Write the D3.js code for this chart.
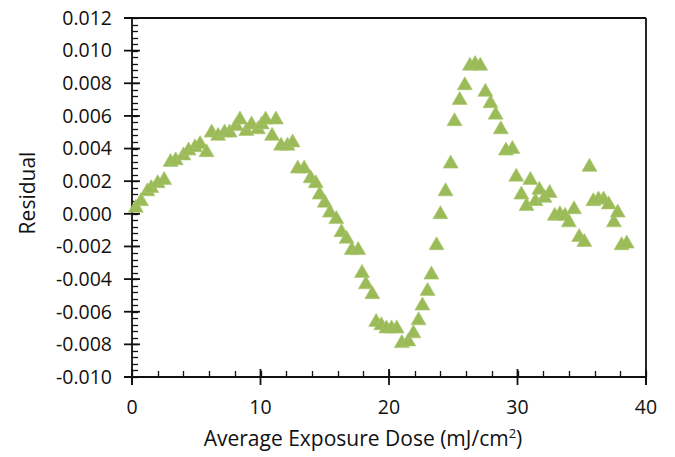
<!DOCTYPE html>
<html>
<head>
<meta charset="utf-8">
<script src="https://cdn.jsdelivr.net/npm/d3@7"></script>
<style>
  html, body { margin: 0; padding: 0; background: #ffffff; }
  svg { display: block; }
  text { font-family: "Open Sans", "Liberation Sans", sans-serif; fill: #111111; }
</style>
</head>
<body>
<svg id="chart" width="675" height="457"></svg>
<script>
// Average exposure dose (mJ/cm²) for each measurement
const dose = [
  0.3, 0.7, 1.2, 1.5, 2.0, 2.5, 3.0, 3.4, 4.0, 4.4,
  4.9, 5.3, 5.8, 6.2, 6.7, 7.2, 7.6, 8.1, 8.4, 8.9,
  9.3, 9.8, 10.1, 10.4, 10.9, 11.2, 11.6, 12.1, 12.5, 12.9,
  13.4, 13.9, 14.3, 14.6, 15.0, 15.4, 15.9, 16.3, 16.7, 17.1,
  17.6, 17.9, 18.2, 18.7, 19.0, 19.4, 19.8, 20.2, 20.6, 21.0,
  21.5, 21.9, 22.3, 22.6, 23.0, 23.3, 23.7, 24.0, 24.4, 24.8,
  25.1, 25.5, 25.9, 26.3, 26.7, 27.1, 27.5, 27.9, 28.3, 28.7,
  29.1, 29.6, 29.9, 30.3, 30.7, 31.0, 31.4, 31.7, 32.1, 32.5,
  32.9, 33.3, 33.7, 34.0, 34.4, 34.8, 35.2, 35.6, 35.9, 36.3,
  36.7, 37.1, 37.5, 37.8, 38.1, 38.5
];

// Fit residual at each dose
const residual = [
  0.0005, 0.0009, 0.0015, 0.0017, 0.0020, 0.0022, 0.0033, 0.0034, 0.0037, 0.0040,
  0.0042, 0.0044, 0.0039, 0.0051, 0.0049, 0.0051, 0.0051, 0.0055, 0.0059, 0.0052,
  0.0056, 0.0053, 0.0056, 0.0059, 0.0049, 0.0059, 0.0043, 0.0043, 0.0045, 0.0029,
  0.0029, 0.0023, 0.0020, 0.0013, 0.0008, 0.0002, -0.0002, -0.0010, -0.0014, -0.0021,
  -0.0021, -0.0035, -0.0042, -0.0048, -0.0065, -0.0067, -0.0069, -0.0069, -0.0069, -0.0078,
  -0.0077, -0.0072, -0.0064, -0.0055, -0.0046, -0.0036, -0.0018, 0.0001, 0.0015, 0.0032,
  0.0058, 0.0071, 0.0080, 0.0092, 0.0093, 0.0092, 0.0076, 0.0069, 0.0062, 0.0053,
  0.0040, 0.0041, 0.0024, 0.0013, 0.0006, 0.0022, 0.0009, 0.0016, 0.0011, 0.0014,
  0.0000, 0.0001, 0.0000, -0.0004, 0.0004, -0.0013, -0.0016, 0.0030, 0.0009, 0.0010,
  0.0010, 0.0007, -0.0004, 0.0002, -0.0018, -0.0017
];

// Axis ticks and their labels
const xTicks = [0, 10, 20, 30, 40];
const xMinorTicks = d3.range(0, 40.001, 2);
const yTicks = [-0.010, -0.008, -0.006, -0.004, -0.002, 0.000, 0.002, 0.004, 0.006, 0.008, 0.010, 0.012];
const yMinorTicks = d3.range(-0.010, 0.01201, 0.0004);
const yTickLabels = ["-0.010", "-0.008", "-0.006", "-0.004", "-0.002", "0.000", "0.002", "0.004", "0.006", "0.008", "0.010", "0.012"];

const svg = d3.select("#chart");
const plot = { left: 132, right: 646, top: 18, bottom: 377 };

const x = d3.scaleLinear().domain([0, 40]).range([plot.left, plot.right]);
const y = d3.scaleLinear().domain([-0.010, 0.012]).range([plot.bottom, plot.top]);

const axisColor = "#111111";
const g = svg.append("g");

// Frame: top and right edges of the plot area
g.append("line")
  .attr("x1", plot.left - 8).attr("x2", plot.right)
  .attr("y1", y(0.012)).attr("y2", y(0.012))
  .attr("stroke", axisColor).attr("stroke-width", 1.8);
g.append("line")
  .attr("x1", x(40)).attr("x2", x(40))
  .attr("y1", plot.top).attr("y2", plot.bottom + 8)
  .attr("stroke", axisColor).attr("stroke-width", 1.8);

// Y axis line, minor (inside) and major (crossing) ticks
g.append("line")
  .attr("x1", x(0)).attr("x2", x(0))
  .attr("y1", plot.top).attr("y2", plot.bottom + 8)
  .attr("stroke", axisColor).attr("stroke-width", 1.8);
g.selectAll(".yminor").data(yMinorTicks).join("line")
  .attr("x1", x(0)).attr("x2", x(0) + 6)
  .attr("y1", d => Math.round(y(d)) + 0.5).attr("y2", d => Math.round(y(d)) + 0.5)
  .attr("stroke", axisColor).attr("stroke-width", 1.3);
g.selectAll(".ymajor").data(yTicks).join("line")
  .attr("x1", x(0) - 8).attr("x2", x(0) + 8)
  .attr("y1", d => y(d)).attr("y2", d => y(d))
  .attr("stroke", axisColor).attr("stroke-width", 1.8);
g.selectAll(".ylabel").data(yTicks).join("text")
  .attr("x", x(0) - 20)
  .attr("y", d => y(d))
  .attr("dy", "0.35em")
  .attr("text-anchor", "end")
  .attr("font-size", 19.5)
  .text((d, i) => yTickLabels[i]);

// X axis line, minor (inside) and major (crossing) ticks
g.append("line")
  .attr("x1", plot.left - 8).attr("x2", plot.right)
  .attr("y1", y(-0.010)).attr("y2", y(-0.010))
  .attr("stroke", axisColor).attr("stroke-width", 1.8);
g.selectAll(".xminor").data(xMinorTicks).join("line")
  .attr("x1", d => Math.round(x(d)) + 0.5).attr("x2", d => Math.round(x(d)) + 0.5)
  .attr("y1", y(-0.010)).attr("y2", y(-0.010) - 6)
  .attr("stroke", axisColor).attr("stroke-width", 1.3);
g.selectAll(".xmajor").data(xTicks).join("line")
  .attr("x1", d => x(d)).attr("x2", d => x(d))
  .attr("y1", y(-0.010) - 8).attr("y2", y(-0.010) + 8)
  .attr("stroke", axisColor).attr("stroke-width", 1.8);
g.selectAll(".xlabel").data(xTicks).join("text")
  .attr("x", d => x(d))
  .attr("y", 414)
  .attr("text-anchor", "middle")
  .attr("font-size", 19.5)
  .text(d => d);

// Axis titles
const xTitle = svg.append("text")
  .attr("x", (plot.left + plot.right) / 2 - 26)
  .attr("y", 446)
  .attr("text-anchor", "middle")
  .attr("font-size", 21);
xTitle.append("tspan").text("Average Exposure Dose (mJ/cm");
xTitle.append("tspan").attr("dy", -8).attr("font-size", 13).text("2");
xTitle.append("tspan").attr("dy", 8).text(")");

svg.append("text")
  .attr("transform", "translate(35,193) rotate(-90)")
  .attr("text-anchor", "middle")
  .attr("font-size", 21)
  .text("Residual");

// Triangle markers
const triW = 15, triH = 13;
const tri = d3.path();
tri.moveTo(0, -triH / 2);
tri.lineTo(triW / 2, triH / 2);
tri.lineTo(-triW / 2, triH / 2);
tri.closePath();

const points = dose.map((d, i) => ({ dose: d, residual: residual[i] }));
svg.append("g").selectAll("path").data(points).join("path")
  .attr("d", tri.toString())
  .attr("transform", d => `translate(${x(d.dose)},${y(d.residual)})`)
  .attr("fill", "#9bbb59")
  .attr("stroke", "#a9c66d")
  .attr("stroke-width", 0.6);
</script>
</body>
</html>
